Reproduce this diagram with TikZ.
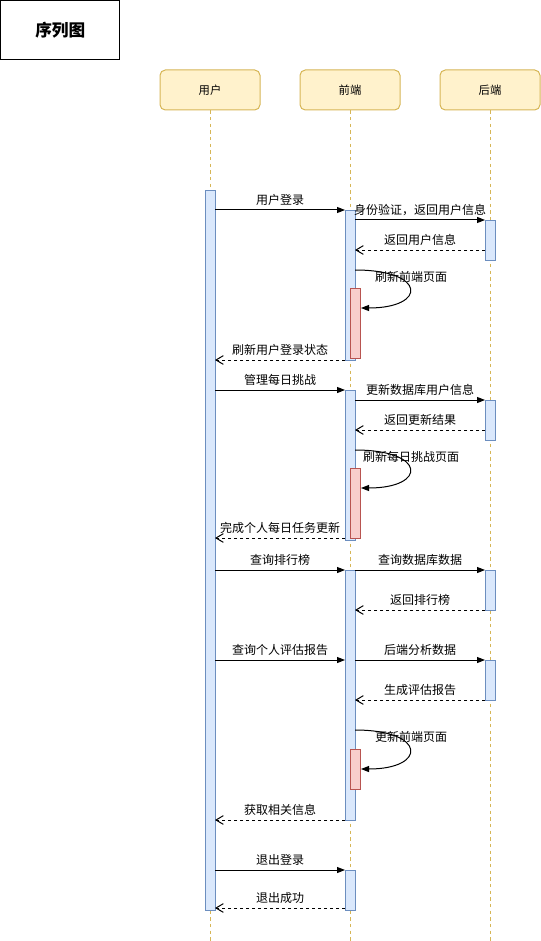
\documentclass[tikz,border=0pt]{standalone}
\usepackage{fontspec}
\setmainfont{Noto Sans CJK SC}
\usepackage{xcolor}
\usepackage{tikz}
\usetikzlibrary{arrows.meta}

\definecolor{hdrfill}{HTML}{FFF2CC}
\definecolor{hdrline}{HTML}{D6B656}
\definecolor{barfill}{HTML}{DAE8FC}
\definecolor{barline}{HTML}{6C8EBF}
\definecolor{selffill}{HTML}{F8CECC}
\definecolor{selfline}{HTML}{B85450}

\begin{document}
\begin{tikzpicture}[x=0.75pt, y=-0.75pt, font=\fontsize{9pt}{11pt}\selectfont,
  header/.style={draw=hdrline, fill=hdrfill, line width=0.75pt, rounded corners=4pt, minimum width=75pt, minimum height=30pt, font=\fontsize{8.5pt}{10pt}\selectfont},
  lifeline/.style={draw=hdrline, line width=0.75pt, dash pattern=on 2.5pt off 2.5pt},
  actbar/.style={draw=barline, fill=barfill, line width=0.75pt, minimum width=7.5pt, minimum height=#1*0.75pt, inner sep=0pt, anchor=north},
  selfbar/.style={actbar=#1, draw=selfline, fill=selffill},
  msg/.style={-{Triangle[length=6pt,width=4.5pt]}, line width=0.75pt},
  ret/.style={-{Straight Barb[length=5.5pt,width=6.5pt]}, line width=0.75pt, dash pattern=on 2.5pt off 2pt},
  lbl/.style={inner sep=0pt, yshift=7.5pt}]
  \useasboundingbox (0,0) rectangle (541,941);
  % title
  \node[draw, line width=0.75pt, minimum width=89.5pt, minimum height=44.5pt, font=\fontsize{12.5pt}{14pt}\selectfont\bfseries] (title) at (60.25,30.25) {序列图};
  % lifelines
  \foreach \x/\n/\t in {210/user/用户, 350/front/前端, 490/back/后端} {
    \node[header] (\n) at (\x,90) {\t};
    \coordinate (\n end) at (\x,941);
    \draw[lifeline] (\n.south) -- (\n end);
  }
  % activations
  \node[actbar=720] (ubar) at (210,190) {};
  \node[actbar=150] (fbar1) at (350,210) {};
  \node[actbar=150] (fbar2) at (350,390) {};
  \node[actbar=250] (fbar3) at (350,570) {};
  \node[actbar=40] (fbar4) at (350,870) {};
  \node[actbar=40] (bbar1) at (490,220) {};
  \node[actbar=40] (bbar2) at (490,400) {};
  \node[actbar=40] (bbar3) at (490,570) {};
  \node[actbar=40] (bbar4) at (490,660) {};
  \node[selfbar=70] (rbar1) at (355,288) {};
  \node[selfbar=70] (rbar2) at (355,468) {};
  \node[selfbar=40] (rbar3) at (355,749) {};
  % calls
  \foreach \y/\a/\b/\t [count=\i] in {210/215/345/用户登录, 220/355/485/身份验证，返回用户信息,
      390/215/345/管理每日挑战, 400/355/485/更新数据库用户信息, 570/215/345/查询排行榜,
      570/355/485/查询数据库数据, 660/215/345/查询个人评估报告, 660/355/485/后端分析数据, 870/215/345/退出登录} {
    \coordinate (c\i) at (\a,\y);
    \coordinate (d\i) at (\b,\y);
    \draw[msg] (c\i) -- node[lbl] {\t} (d\i);
  }
  % returns
  \foreach \y/\a/\b/\t [count=\i] in {250/485/355/返回用户信息, 360/345/215/刷新用户登录状态,
      430/485/355/返回更新结果, 538/345/215/完成个人每日任务更新, 610/485/355/返回排行榜,
      700/485/355/生成评估报告, 820/345/215/获取相关信息, 908/345/215/退出成功} {
    \coordinate (r\i) at (\a,\y);
    \coordinate (s\i) at (\b,\y);
    \draw[ret] (r\i) -- node[lbl] {\t} (s\i);
  }
  % self calls
  \foreach \y/\z/\t [count=\i] in {270/308/刷新前端页面, 450/488/刷新每日挑战页面, 730/769/更新前端页面} {
    \coordinate (u\i) at (355,\y);
    \coordinate (v\i) at (361,\z);
    \draw[msg] (u\i) .. controls +(72,0) and +(66,0) .. (v\i);
    \node[inner sep=0pt] (w\i) at (411,\y+6.5) {\t};
  }
\end{tikzpicture}
\end{document}
